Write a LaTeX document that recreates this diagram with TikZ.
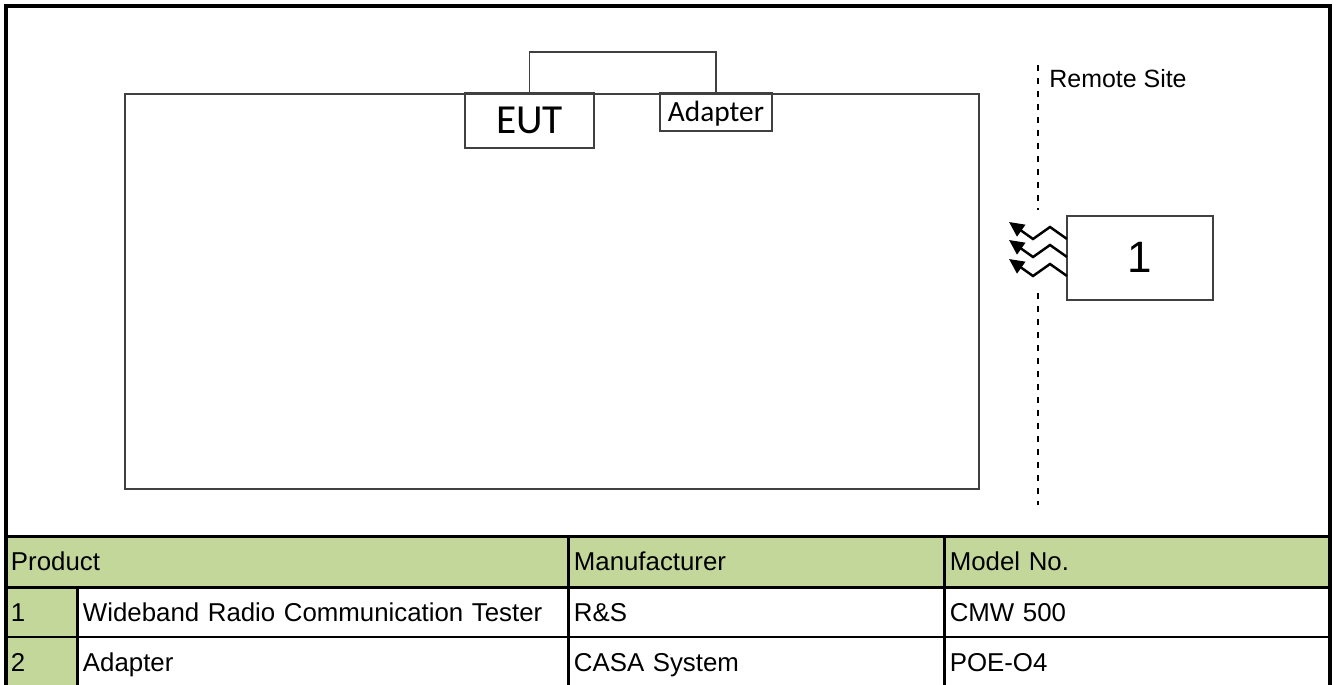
\documentclass[tikz,border=0pt]{standalone}
\usepackage{fontspec}
\newfontfamily\arialfont{Liberation Sans}
\newfontfamily\calibrifont{Carlito}
\usetikzlibrary{positioning,arrows.meta,calc}
\definecolor{tablegreen}{RGB}{196,215,155}
\tikzset{
	>={Triangle[length=0.3cm,width=0.28cm]}
}

\begin{document}
\begin{tikzpicture}[
x = 0.02cm, y = -0.02cm,
every node/.style = {
	font = \arialfont
},
box/.style = {
	draw = black!75,
	line width = 1.1pt,
	outer sep = 0,
	inner sep = 0,
	anchor = north west
},
box line/.style = {
	draw = black!75,
	line width = 1.1pt
},
cell/.style = {
	draw,
	line width = 1.7pt,
	outer sep = 0,
	inner xsep = 0.1cm,
	inner ysep = 0,
	minimum height = 1cm,
	align = left,
	text height = 10.5pt,
	text depth = 0pt,
	font = \fontsize{14.7}{17}\arialfont
},
head/.style = {
	cell,
	fill = tablegreen,
	minimum height = 1.02cm
},
radio/.style = {
	->,
	line width = 1.4pt
},
site line/.style = {
	line width = 1pt,
	dash pattern = on 0.12cm off 0.14cm
},
frame/.style = {
	line width = 2.3pt
}
]

\useasboundingbox (0,0) rectangle (1337,684);

% test room
\node [box, minimum width = 17.08cm, minimum height = 7.9cm] (room) at (125,94) {};
\node [box, minimum width = 2.58cm, minimum height = 1.1cm, text height = 15pt, text depth = 0pt,
	font = \fontsize{23.5}{28}\calibrifont] (eut) at (465,93) {EUT};
\node [box, minimum width = 2.24cm, minimum height = 0.76cm, text height = 10.8pt, text depth = 0pt,
	font = \fontsize{16.7}{20}\calibrifont] (adapter) at (660,93) {Adapter};

\draw [box line] (eut.north) -- ++(0,-41) -| (adapter.north);

% remote site
\node [anchor = base west, inner sep = 0, font = \fontsize{14.2}{17}\arialfont] (remote) at (1049,87) {Remote Site};
\node [box, minimum width = 2.92cm, minimum height = 1.68cm, text height = 17pt, text depth = 0pt,
	font = \fontsize{25}{30}\arialfont] (tester) at (1067,216) {1};

\coordinate (sitetop) at (1038,65);
\coordinate (sitegapa) at (1038,210);
\coordinate (sitegapb) at (1038,293);
\coordinate (sitebot) at (1038,505);
\draw [site line] (sitetop) -- (sitegapa);
\draw [site line] (sitegapb) -- (sitebot);

\foreach \dy in {-19,-1,18}
	\draw [radio] ($(tester.west)+(0,\dy)$) -- ++(-17,-12) -- ++(-17,12) -- ++(-24,-17);

% equipment table
\node [head, text width = 11.06cm, anchor = north west] (hprod) at (6,536) {Product};
\node [head, text width = 7.32cm, right = 0pt of hprod] (hmaker) {Manufacturer};
\node [head, text width = 7.5cm, right = 0pt of hmaker] (hmodel) {Model No.};

\node [cell, fill = tablegreen, text width = 1.24cm, below = 0pt of hprod.south west, anchor = north west] (num1) {1};
\node [cell, text width = 9.62cm, right = 0pt of num1] (prod1) {Wideband Radio Communication Tester};
\node [cell, text width = 7.32cm, right = 0pt of prod1] (maker1) {R\&S};
\node [cell, text width = 7.5cm, right = 0pt of maker1] (model1) {CMW 500};

\node [cell, fill = tablegreen, text width = 1.24cm, below = 0pt of num1.south west, anchor = north west] (num2) {2};
\node [cell, text width = 9.62cm, right = 0pt of num2] (prod2) {Adapter};
\node [cell, text width = 7.32cm, right = 0pt of prod2] (maker2) {CASA System};
\node [cell, text width = 7.5cm, right = 0pt of maker2] (model2) {POE-O4};

\draw [frame] (6,6) rectangle (1330,700);

\end{tikzpicture}
\end{document}
